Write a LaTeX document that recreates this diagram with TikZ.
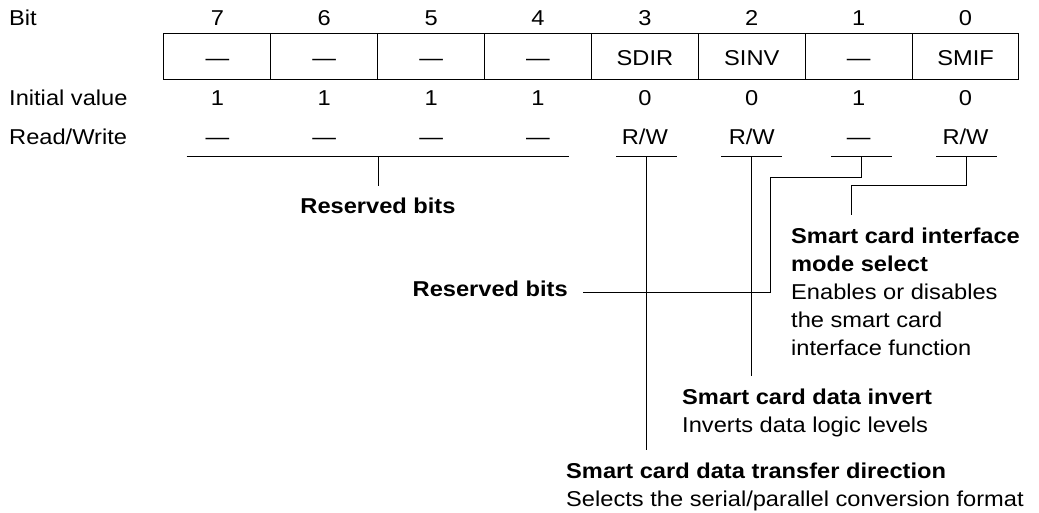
\documentclass[tikz,border=0pt]{standalone}
\usepackage{fontspec}
\setmainfont{Liberation Sans}[FakeStretch=1.1]
\newcommand{\rwlabel}{R/W}
\begin{document}
\begin{tikzpicture}[x=1pt,y=-1pt,
  txt/.style={font=\fontsize{21.5}{28}\selectfont, inner sep=0pt, anchor=base},
  lbl/.style={txt, anchor=base west},
  hd/.style={font=\fontsize{21.5}{28}\selectfont\bfseries},
  blk/.style={font=\fontsize{21.5}{28}\selectfont, inner sep=0pt, anchor=base west, align=left},
  ln/.style={line width=1pt, draw=black},
  cell/.style={draw, line width=1pt, minimum width=106.875pt, minimum height=46pt,
    inner sep=0pt, text height=19pt, text depth=0pt, font=\fontsize{21.5}{28}\selectfont}]
\useasboundingbox (0,0) rectangle (1039,513);

% row labels
\node[lbl] (lbit) at (9,26) {Bit};
\node[lbl] (linit) at (9,105.5) {Initial value};
\node[lbl] (lrw) at (9,145) {Read/Write};

% columns
\foreach \i/\b/\n/\v/\r in {0/7/—/1/—, 1/6/—/1/—, 2/5/—/1/—, 3/4/—/1/—,
  4/3/SDIR/0/\rwlabel, 5/2/SINV/0/\rwlabel, 6/1/—/1/—, 7/0/SMIF/0/\rwlabel} {
  \node[txt] (b\b) at (217.4+106.875*\i,26) {\b};
  \node[cell] (c\b) at (217.4+106.875*\i,56.3) {\n};
  \node[txt] (iv\b) at (217.4+106.875*\i,105.5) {\v};
  \node[txt] (rw\b) at (217.4+106.875*\i,145) {\r};
}

% underline coordinates
\coordinate (ra) at (186.5,157);
\coordinate (rb) at (569,157);
\coordinate (rm) at (378,157);
\coordinate (rs) at (378,186);
\coordinate (u3a) at (616,157); \coordinate (u3b) at (677,157); \coordinate (u3m) at (646.5,157);
\coordinate (u2a) at (721,157); \coordinate (u2b) at (782,157); \coordinate (u2m) at (751.5,157);
\coordinate (u1a) at (831,157); \coordinate (u1b) at (892,157); \coordinate (u1m) at (861.5,157);
\coordinate (u0a) at (936,157); \coordinate (u0b) at (997,157); \coordinate (u0m) at (966.5,157);

\draw[ln] (ra) -- (rb);
\draw[ln] (rm) -- (rs);
\draw[ln] (u3a) -- (u3b);
\draw[ln] (u2a) -- (u2b);
\draw[ln] (u1a) -- (u1b);
\draw[ln] (u0a) -- (u0b);

% texts (multi-line blocks are placed by the baseline of their last line)
\node[txt, hd] (res1) at (378,214) {Reserved bits};
\node[txt, hd, anchor=base east] (res2) at (568,296.5) {Reserved bits};
\node[blk] (smif) at (791,355) {\textbf{Smart card interface}\\\textbf{mode select}\\Enables or disables\\the smart card\\interface function};
\node[blk] (sinv) at (682,432) {\textbf{Smart card data invert}\\Inverts data logic levels};
\node[blk] (sdir) at (566,506) {\textbf{Smart card data transfer direction}\\Selects the serial/parallel conversion format};

% connectors
\coordinate (k1a) at (770.8,177.3);
\coordinate (r2end) at (582.7,292.5);
\draw[ln] (u1m) |- (k1a) |- (r2end);
\coordinate (k0a) at (851,186);
\coordinate (k0b) at (851,215);
\draw[ln] (u0m) |- (k0a) -- (k0b);
\coordinate (s2) at (751.5,376);
\draw[ln] (u2m) -- (s2);
\coordinate (s3) at (646.5,450);
\draw[ln] (u3m) -- (s3);
\end{tikzpicture}
\end{document}
